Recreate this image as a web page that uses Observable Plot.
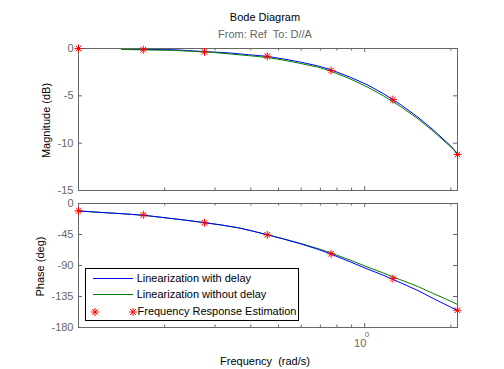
<!DOCTYPE html>
<html><head><meta charset="utf-8">
<script src="https://cdn.jsdelivr.net/npm/d3@7"></script>
<script src="https://cdn.jsdelivr.net/npm/@observablehq/plot@0.6"></script>
<style>
body{margin:0;background:#fff;}
#chart{position:relative;width:504px;height:369px;font-family:"Liberation Sans",Arial,sans-serif;font-size:11px;overflow:hidden;background:#fff;}
.t{position:absolute;white-space:nowrap;line-height:11px;}
</style></head><body><div id="chart"></div>
<script>
// ---- data ----
const freqMag = [0.1415,0.2148,0.2502,0.2913,0.3366,0.3922,0.4566,0.5233,0.5998,0.6877,0.7631,0.8958,1.027,1.167,1.338,1.534,1.744,1.999,2.109];
const magWithDelay = [-0.08,-0.13,-0.25,-0.36,-0.47,-0.66,-0.83,-1.12,-1.45,-1.85,-2.25,-3.07,-3.87,-4.8,-5.95,-7.25,-8.65,-10.3,-11.1];
const magWithoutDelay = [-0.1,-0.2,-0.3,-0.4,-0.57,-0.75,-0.95,-1.24,-1.59,-1.98,-2.4,-3.25,-4.1,-5.02,-6.15,-7.42,-8.8,-10.4,-11.12];

const freqPhase = [0.1,0.1222,0.1415,0.1533,0.1675,0.1845,0.2064,0.2347,0.2755,0.3157,0.3619,0.4017,0.4566,0.5233,0.5998,0.6877,0.7631,0.8958,1.027,1.167,1.338,1.534,1.744,1.999,2.109];
const phaseWithDelay = [-10.8,-13.2,-14.8,-15.8,-17.0,-18.9,-21.3,-24.0,-27.8,-31.2,-35.3,-39.6,-45.4,-51.8,-58.8,-66.6,-73.5,-85.2,-95.4,-104.5,-115.2,-126.3,-138.3,-150.5,-155.3];
const phaseWithoutDelay = [-10.8,-13.2,-14.8,-15.8,-17.0,-18.9,-21.3,-24.0,-27.8,-31.2,-35.3,-39.6,-45.3,-51.5,-58.2,-65.5,-71.8,-82.7,-92.5,-101.2,-110.9,-120.5,-131.0,-141.8,-146.6];

const starFreq = [0.1,0.1684,0.2755,0.4566,0.7631,1.255,2.109];
const starMag = [0,-0.13,-0.36,-0.82,-2.33,-5.4,-11.2];
const starPhase = [-10.6,-16.4,-28,-45.5,-73,-109,-155];

const xDomain = [0.1, 2.11];
const xMinorTicks = [0.2,0.3,0.4,0.5,0.6,0.7,0.8,0.9,2];
const xMajorTicks = [1];
const magTicks = [0,-5,-10,-15];
const phaseTicks = [0,-45,-90,-135,-180];
const seriesNames = ["Linearization with delay","Linearization without delay","Frequency Response Estimation"];

// ---- styling ----
const BLUE = "#0000ff", GREEN = "#008000", RED = "#ff0000", AX = "#666666";
const FONT = "'Liberation Sans', Arial, sans-serif";
const W = 504, ML = 78, MR = 47;
const FW = W - ML - MR;

const star = {draw(ctx, size) {
  const r = Math.sqrt(size / Math.PI), d = r * 0.7;
  ctx.moveTo(-r, 0); ctx.lineTo(r, 0);
  ctx.moveTo(0, -r); ctx.lineTo(0, r);
  ctx.moveTo(-d, -d); ctx.lineTo(d, d);
  ctx.moveTo(-d, d); ctx.lineTo(d, -d);
}};

const zip = (xs, ys) => xs.map((x, i) => ({x, y: ys[i]}));

function boxTicks(FH, yTicks) {
  return [
    Plot.tickX(xMinorTicks, {x: d => d, stroke: AX, insetTop: FH - 2.5}),
    Plot.tickX(xMinorTicks, {x: d => d, stroke: AX, insetBottom: FH - 2.5}),
    Plot.tickX(xMajorTicks, {x: d => d, stroke: AX, insetTop: FH - 4}),
    Plot.tickX(xMajorTicks, {x: d => d, stroke: AX, insetBottom: FH - 4}),
    Plot.tickY(yTicks, {y: d => d, stroke: AX, insetRight: FW - 4}),
    Plot.tickY(yTicks, {y: d => d, stroke: AX, insetLeft: FW - 4}),
    Plot.frame({stroke: AX})
  ];
}

const chart = document.getElementById("chart");

// ---- magnitude plot ----
const H1 = 160, MT1 = 8, MB1 = 10;
const mag = Plot.plot({
  width: W, height: H1, marginLeft: ML, marginRight: MR, marginTop: MT1, marginBottom: MB1,
  style: {fontFamily: FONT, fontSize: "11px", background: "transparent", overflow: "visible"},
  x: {type: "log", domain: xDomain, axis: null},
  y: {domain: [-15, 0], axis: null},
  marks: [
    Plot.line(zip(freqMag, magWithDelay), {x: "x", y: "y", stroke: BLUE, strokeWidth: 1}),
    Plot.line(zip(freqMag, magWithoutDelay), {x: "x", y: "y", stroke: GREEN, strokeWidth: 1}),
    ...boxTicks(H1 - MT1 - MB1, magTicks),
    Plot.axisY({ticks: magTicks, tickSize: 0, tickPadding: 5, tickFormat: d => String(d), label: null, fill: AX, stroke: null}),
    Plot.dot(zip(starFreq, starMag), {x: "x", y: "y", symbol: star, r: 4, stroke: RED, strokeWidth: 1, clip: false})
  ]
});
mag.style.position = "absolute"; mag.style.top = "40px"; mag.style.left = "0px";
chart.appendChild(mag);

// ---- phase plot ----
const H2 = 174, MT2 = 8, MB2 = 42;
const ph = Plot.plot({
  width: W, height: H2, marginLeft: ML, marginRight: MR, marginTop: MT2, marginBottom: MB2,
  style: {fontFamily: FONT, fontSize: "11px", background: "transparent", overflow: "visible"},
  x: {type: "log", domain: xDomain, axis: null},
  y: {domain: [-180, 0], axis: null},
  marks: [
    Plot.line(zip(freqPhase, phaseWithoutDelay), {x: "x", y: "y", stroke: GREEN, strokeWidth: 1}),
    Plot.line(zip(freqPhase, phaseWithDelay), {x: "x", y: "y", stroke: BLUE, strokeWidth: 1}),
    ...boxTicks(H2 - MT2 - MB2, phaseTicks),
    Plot.axisY({ticks: phaseTicks, tickSize: 0, tickPadding: 5, tickFormat: d => String(d), label: null, fill: AX, stroke: null}),
    Plot.axisX({ticks: xMajorTicks, tickSize: 0, tickPadding: 12, tickFormat: () => "10", dx: -4.5, label: null, fill: AX, stroke: null}),
    Plot.text(xMajorTicks, {x: d => d, text: () => "0", frameAnchor: "bottom", dy: 9, dx: 2.3, fontSize: 8, fill: AX}),
    Plot.dot(zip(starFreq, starPhase), {x: "x", y: "y", symbol: star, r: 4, stroke: RED, strokeWidth: 1, clip: false})
  ]
});
ph.style.position = "absolute"; ph.style.top = "195px"; ph.style.left = "0px";
chart.appendChild(ph);

// ---- texts ----
function addText(txt, left, top, opts = {}) {
  const d = document.createElement("div");
  d.className = "t"; d.textContent = txt;
  d.style.left = left + "px"; d.style.top = top + "px";
  Object.assign(d.style, opts);
  chart.appendChild(d);
  return d;
}
addText("Bode Diagram", 0, 11.7, {width: "530px", textAlign: "center", color: "#000"});
addText("From: Ref  To: D//A", 0, 28.7, {width: "530px", textAlign: "center", color: AX, whiteSpace: "pre"});
addText("Frequency  (rad/s)", 0, 356, {width: "530px", textAlign: "center", color: "#000", whiteSpace: "pre"});
addText("Magnitude (dB)", 45.5 - 100, 114.5, {width: "200px", textAlign: "center", color: "#000", transform: "rotate(-90deg)", transformOrigin: "100px 5.5px"});
addText("Phase (deg)", 39.5 - 100, 261.2, {width: "200px", textAlign: "center", color: "#000", transform: "rotate(-90deg)", transformOrigin: "100px 5.5px"});

// ---- legend ----
const lg = document.createElement("div");
Object.assign(lg.style, {position: "absolute", left: "85px", top: "268px", width: "214px", height: "53px", border: "1px solid #000", background: "#fff", boxSizing: "border-box"});
chart.appendChild(lg);
const sampleLine = (color, y) => {
  const l = document.createElement("div");
  Object.assign(l.style, {position: "absolute", left: "93px", top: y + "px", width: "40px", height: "0", borderTop: "1px solid " + color});
  chart.appendChild(l);
};
sampleLine(BLUE, 278);
sampleLine(GREEN, 294);
const starSvg = (cx, cy) => {
  const ns = "http://www.w3.org/2000/svg";
  const s = document.createElementNS(ns, "svg");
  s.setAttribute("width", 10); s.setAttribute("height", 10);
  s.style.position = "absolute"; s.style.left = (cx - 5) + "px"; s.style.top = (cy - 5) + "px";
  const p = document.createElementNS(ns, "path");
  p.setAttribute("d", "M1,5H9M5,1V9M2.2,2.2L7.8,7.8M2.2,7.8L7.8,2.2");
  p.setAttribute("stroke", RED); p.setAttribute("fill", "none");
  s.appendChild(p); chart.appendChild(s);
};
starSvg(95, 311.5);
starSvg(133, 311.5);
addText(seriesNames[0], 136.7, 273.4, {color: "#000"});
addText(seriesNames[1], 136.7, 289.4, {color: "#000"});
addText(seriesNames[2], 137.5, 306, {color: "#000"});
</script></body></html>
